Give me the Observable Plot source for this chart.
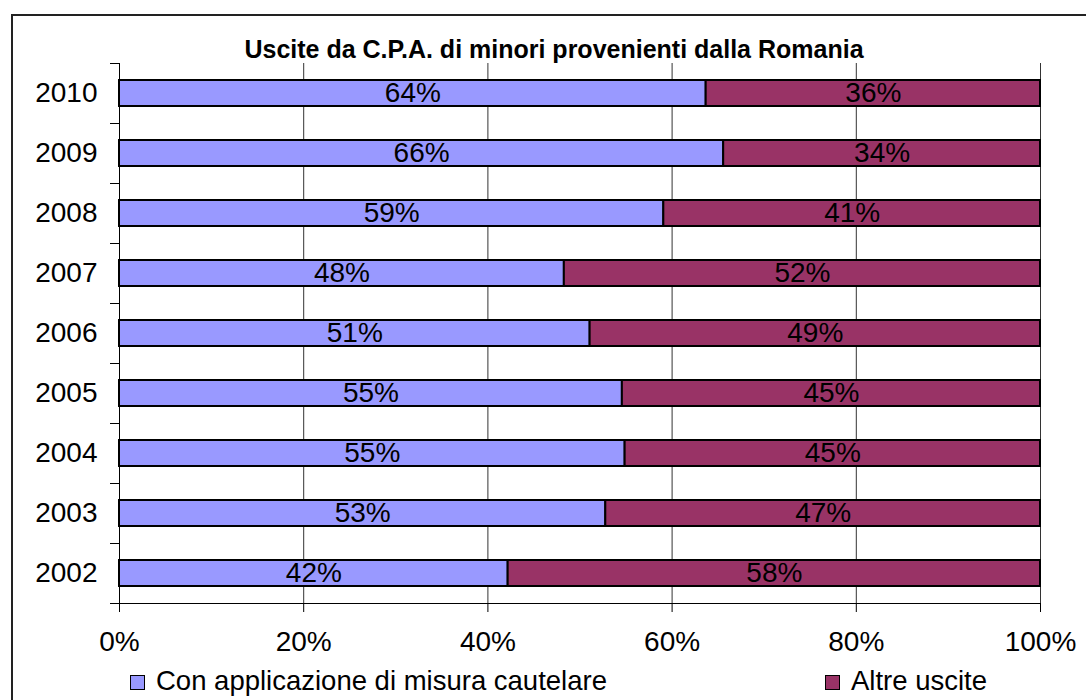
<!DOCTYPE html>
<html>
<head>
<meta charset="utf-8">
<script src="https://cdn.jsdelivr.net/npm/d3@7"></script>
<script src="https://cdn.jsdelivr.net/npm/@observablehq/plot@0.6"></script>
<style>
  html, body { margin: 0; padding: 0; background: #fff; overflow: hidden; }
  body { width: 1086px; height: 700px; position: relative; font-family: "Liberation Sans", Arial, sans-serif; }
  #border { position: absolute; left: 11px; top: 14px; width: 1120px; height: 720px; border: 2px solid #222; box-sizing: border-box; }
  #chart { position: absolute; left: 0; top: 0; }
  #title { position: absolute; left: 0; width: 1108px; top: 37px; text-align: center; font-weight: bold; font-size: 25px; line-height: 25px; color: #000; }
  .leg { position: absolute; top: 667px; font-size: 27.5px; line-height: 27.5px; color: #000; white-space: nowrap; }
  .sw { position: absolute; top: 675px; width: 15px; height: 15px; box-sizing: border-box; border: 1.5px solid #000; }
</style>
</head>
<body>
<div id="border"></div>
<div id="chart"></div>
<div id="title"></div>
<div id="legend"></div>
<script>
const title = "Uscite da C.P.A. di minori provenienti dalla Romania";
const years = ["2010", "2009", "2008", "2007", "2006", "2005", "2004", "2003", "2002"];
const seriesNames = ["Con applicazione di misura cautelare", "Altre uscite"];
const seriesColors = ["#9999FF", "#993366"];
const conMisura = [63.7, 65.6, 59.1, 48.3, 51.1, 54.6, 54.9, 52.8, 42.2];
const altreUscite = [36.3, 34.4, 40.9, 51.7, 48.9, 45.4, 45.1, 47.2, 57.8];
const xTicks = [0, 20, 40, 60, 80, 100];

const data = [];
years.forEach((y, i) => {
  data.push({year: y, series: seriesNames[0], value: conMisura[i]});
  data.push({year: y, series: seriesNames[1], value: altreUscite[i]});
});

const chart = Plot.plot({
  width: 1086,
  height: 700,
  marginLeft: 119,
  marginRight: 46,
  marginTop: 63,
  marginBottom: 97,
  style: {fontFamily: "'Liberation Sans', Arial, sans-serif", fontSize: "28px", color: "#000", background: "transparent"},
  x: {domain: [0, 100], label: null},
  y: {domain: years, padding: 0, label: null},
  color: {domain: seriesNames, range: seriesColors},
  marks: [
    Plot.gridX(xTicks.slice(1), {stroke: "#333", strokeOpacity: 1, strokeWidth: 1}),
    Plot.barX(data, Plot.stackX({y: "year", x: "value", fill: "series", stroke: "#000", strokeWidth: 2, insetTop: 17, insetBottom: 17})),
    Plot.textX(data, Plot.stackX({y: "year", x: "value", z: "series", text: d => Math.round(d.value) + "%", fill: "#000", fontSize: 28})),
    Plot.frame({anchor: "left", stroke: "#000"}),
    Plot.frame({anchor: "bottom", stroke: "#000"}),
    Plot.axisX(xTicks, {tickSize: 9, tickPadding: 19, fontSize: 28, tickFormat: d => d + "%", stroke: "#000"}),
    Plot.axisY({tickSize: 0, tickPadding: 22, fontSize: 28}),
    Plot.axisY(years, {tickSize: 9, dy: -30, tickFormat: () => "", stroke: "#000"}),
    Plot.axisY(["2002"], {tickSize: 9, dy: 30, tickFormat: () => "", stroke: "#000"})
  ]
});
document.getElementById("chart").appendChild(chart);
document.getElementById("title").textContent = title;

const legend = document.getElementById("legend");
const legPos = [{sw: 130, tx: 156}, {sw: 825, tx: 851}];
seriesNames.forEach((name, i) => {
  const s = document.createElement("div");
  s.className = "sw";
  s.style.left = legPos[i].sw + "px";
  s.style.background = seriesColors[i];
  legend.appendChild(s);
  const t = document.createElement("div");
  t.className = "leg";
  t.style.left = legPos[i].tx + "px";
  t.textContent = name;
  legend.appendChild(t);
});
</script>
</body>
</html>
